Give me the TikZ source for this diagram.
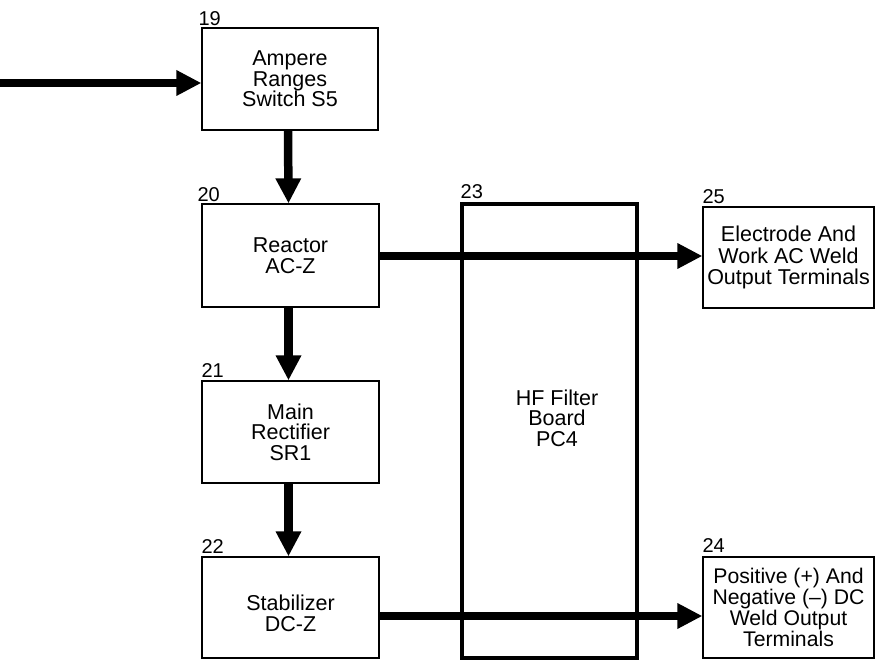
\documentclass[tikz,border=0pt]{standalone}
\usepackage{fontspec}
\setmainfont{Liberation Sans}
\usetikzlibrary{arrows.meta}
\begin{document}
\begin{tikzpicture}[x=1pt,y=-1pt,
  box/.style={draw, line width=1.2pt, inner sep=0pt, align=center,
    font=\fontsize{21.5}{20.5}\selectfont},
  thickbox/.style={draw, line width=4pt, inner sep=0pt},
  num/.style={anchor=base west, inner sep=0pt, font=\fontsize{20}{20}\selectfont},
  txt/.style={inner sep=0pt, align=center, font=\fontsize{21.5}{20.5}\selectfont},
  flow/.style={line width=8.5pt, -{Triangle[length=25pt,width=24pt]}}]
\useasboundingbox (0,0) rectangle (875,660);

% boxes
\node[box, minimum width=176, minimum height=102] (b19) at (290,79) {Ampere\\Ranges\\Switch S5};
\node[box, minimum width=177, minimum height=103] (b20) at (290.5,255.5) {Reactor\\AC-Z};
\node[box, minimum width=177, minimum height=102] (b21) at (290.5,432) {Main\\Rectifier\\SR1};
\node[box, minimum width=177, minimum height=101] (b22) at (290.5,607.5) {\rule{0pt}{27pt}Stabilizer\\DC-Z};
\node[thickbox, minimum width=174.5, minimum height=454] (b23) at (549.7,431) {};
\node[txt] (t23) at (557,418) {HF Filter\\Board\\PC4};
\node[box, minimum width=171, minimum height=101,
  font=\fontsize{21.5}{21.7}\selectfont] (b25) at (788.5,257.5) {Electrode And\\Work AC Weld\\Output Terminals};
\node[box, minimum width=171, minimum height=101,
  font=\fontsize{21.2}{19}\selectfont] (b24) at (788.5,607.5) {Positive (+) And\\Negative (--) DC\\Weld Output\\Terminals};

% numbers
\node[num] (n19) at ([shift={(-3,-2)}]b19.north west) {19};
\node[num] (n20) at ([shift={(-4,-1.5)}]b20.north west) {20};
\node[num] (n21) at ([shift={(0,-3)}]b21.north west) {21};
\node[num] (n22) at ([shift={(0,-3)}]b22.north west) {22};
\node[num] (n23) at ([shift={(0,-3)}]b23.north west) {23};
\node[num] (n24) at ([shift={(0,-4)}]b24.north west) {24};
\node[num] (n25) at ([shift={(0,-3)}]b25.north west) {25};

% connectors
\coordinate (in) at (0,83);
\coordinate (ra) at (0,256);
\coordinate (sa) at (0,616);
\draw[flow] (in) -- (in -| b19.west);
\draw[flow] ([xshift=-2]b19.south) -- ([xshift=-2]b20.north);
\draw[flow] ([xshift=-2]b20.south) -- ([xshift=-2]b21.north);
\draw[flow] ([xshift=-2]b21.south) -- ([xshift=-2]b22.north);
\draw[flow] (ra -| b20.east) -- (ra -| b25.west);
\draw[flow] (sa -| b22.east) -- (sa -| b24.west);
\end{tikzpicture}
\end{document}
